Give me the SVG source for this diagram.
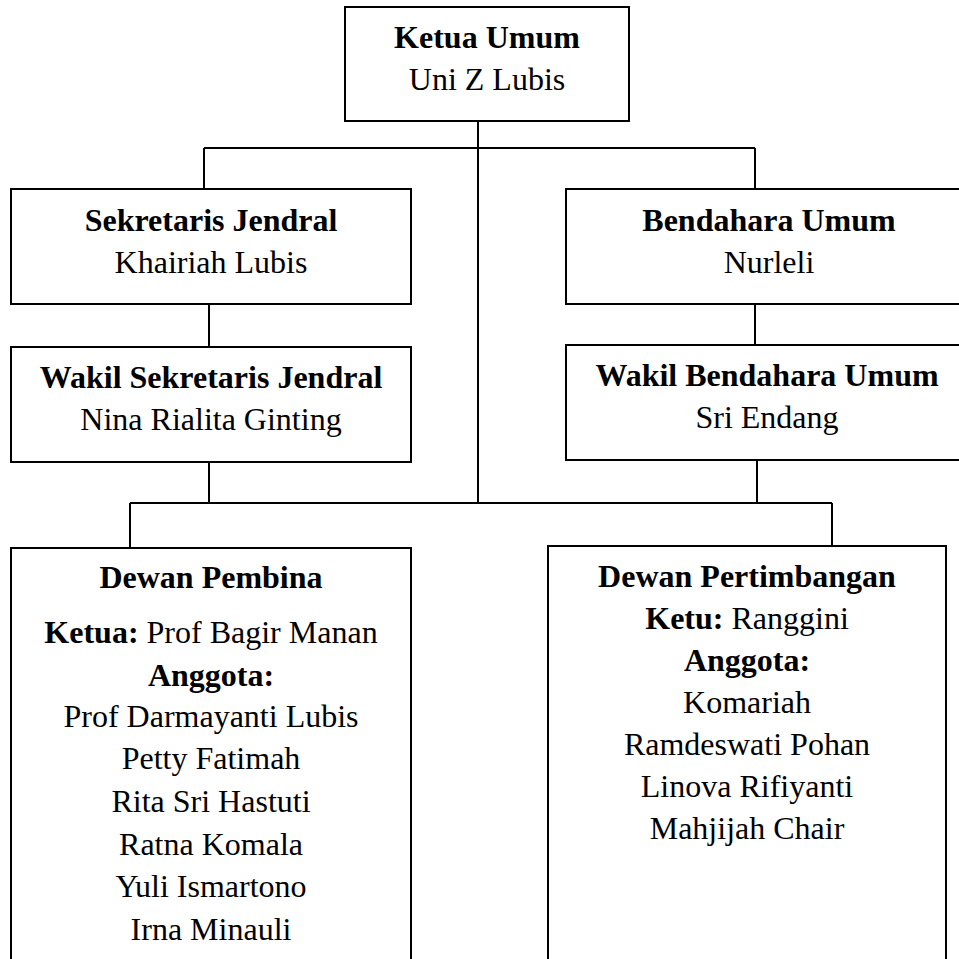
<svg xmlns="http://www.w3.org/2000/svg" width="959" height="959" viewBox="0 0 959 959">
<style>
.box{fill:#fff;stroke:#000;stroke-width:2}
.ln{fill:none;stroke:#000;stroke-width:2}
text{font-family:"Liberation Serif","Times New Roman",serif;font-size:32px;fill:#000;text-anchor:middle}
.b{font-weight:bold}
</style>
<rect width="959" height="959" fill="#fff"/>
<g id="connectors">
<path class="ln" d="M478 121V503M204 148H755M204 148V189M755 148V189M209 304V347M755 304V345M209 462V503M757 460V503M130 503H832M130 503V548M832 503V546"/>
</g>
<g id="ketua-umum">
<rect class="box" x="345" y="7" width="284" height="114"/>
<text x="487" y="48" class="b">Ketua Umum</text>
<text x="487" y="90">Uni Z Lubis</text>
</g>
<g id="sekretaris-jendral">
<rect class="box" x="11" y="189" width="400" height="115"/>
<text x="211" y="231" class="b">Sekretaris Jendral</text>
<text x="211" y="273">Khairiah Lubis</text>
</g>
<g id="bendahara-umum">
<rect class="box" x="566" y="189" width="406" height="115"/>
<text x="769" y="231" class="b">Bendahara Umum</text>
<text x="769" y="273">Nurleli</text>
</g>
<g id="wakil-sekretaris-jendral">
<rect class="box" x="11" y="347" width="400" height="115"/>
<text x="211" y="388" class="b">Wakil Sekretaris Jendral</text>
<text x="211" y="430">Nina Rialita Ginting</text>
</g>
<g id="wakil-bendahara-umum">
<rect class="box" x="566" y="345" width="402" height="115"/>
<text x="767" y="386" class="b">Wakil Bendahara Umum</text>
<text x="767" y="428">Sri Endang</text>
</g>
<g id="dewan-pembina">
<rect class="box" x="11" y="548" width="400" height="430"/>
<text x="211" y="588" class="b">Dewan Pembina</text>
<text x="211" y="643"><tspan class="b">Ketua:</tspan> Prof Bagir Manan</text>
<text x="211" y="686" class="b">Anggota:</text>
<text x="211" y="727">Prof Darmayanti Lubis</text>
<text x="211" y="769">Petty Fatimah</text>
<text x="211" y="812">Rita Sri Hastuti</text>
<text x="211" y="855">Ratna Komala</text>
<text x="211" y="897">Yuli Ismartono</text>
<text x="211" y="940">Irna Minauli</text>
</g>
<g id="dewan-pertimbangan">
<rect class="box" x="548" y="546" width="398" height="432"/>
<text x="747" y="587" class="b">Dewan Pertimbangan</text>
<text x="747" y="629"><tspan class="b">Ketu:</tspan> Ranggini</text>
<text x="747" y="671" class="b">Anggota:</text>
<text x="747" y="713">Komariah</text>
<text x="747" y="755">Ramdeswati Pohan</text>
<text x="747" y="797">Linova Rifiyanti</text>
<text x="747" y="839">Mahjijah Chair</text>
</g>
</svg>
